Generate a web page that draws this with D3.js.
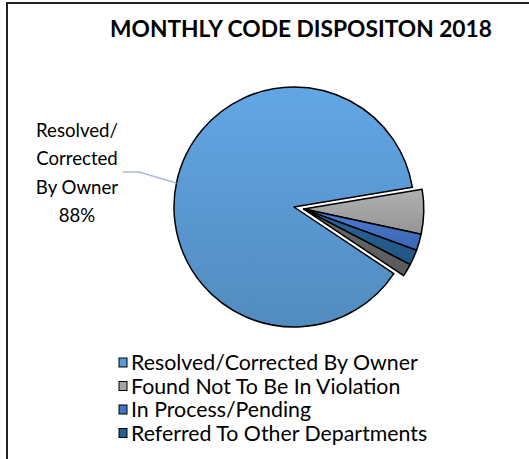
<!DOCTYPE html>
<html>
<head>
<meta charset="utf-8">
<script src="https://cdn.jsdelivr.net/npm/d3@7"></script>
<style>
  html, body { margin: 0; padding: 0; background: #fff; }
  svg { display: block; font-family: Lato, "Open Sans", sans-serif; }
</style>
</head>
<body>
<div id="chart"></div>
<script>
var width = 529, height = 459;

// data (percent of cases)
var categories = ["Resolved/Corrected By Owner", "Found Not To Be In Violation",
                  "In Process/Pending", "Referred To Other Departments", ""];
var values = [88, 6, 2.2, 2.1, 1.7];
var colors = ["#5b9bd5", "#a5a5a5", "#4472c4", "#255e91", "#636363"];
var labelLines = ["Resolved/", "Corrected", "By Owner", "88%"];
var title = "MONTHLY CODE DISPOSITON 2018";

var data = categories.map(function(c, i) { return {name: c, value: values[i], color: colors[i]}; });

var cx = 294, cy = 207, r = 120;
var startDeg = 123.7;
var explode = 10;

var svg = d3.select("#chart").append("svg")
    .attr("width", width).attr("height", height);

// fit a text's font size so it spans the given width
function fitSize(sel, w) {
  var len = sel.node().getComputedTextLength();
  var fs = parseFloat(sel.style("font-size"));
  return fs * w / len;
}

// frame (only left and top edges show)
svg.append("path")
    .attr("d", "M7," + height + " L7,3 L" + width + ",3")
    .attr("fill", "none").attr("stroke", "#222").attr("stroke-width", 2);

var defs = svg.append("defs");
data.forEach(function(d, i) {
  var base = d3.color(d.color);
  var g = defs.append("linearGradient").attr("id", "grad" + i)
      .attr("x1", 0).attr("y1", 0).attr("x2", 0).attr("y2", 1);
  g.append("stop").attr("offset", "0%").attr("stop-color", base.brighter(0.2));
  g.append("stop").attr("offset", "100%").attr("stop-color", base.darker(0.3));
});

var titleText = svg.append("text")
    .attr("x", 301).attr("y", 37)
    .attr("text-anchor", "middle")
    .style("font-weight", "bold").style("font-size", "20px")
    .attr("fill", "#000")
    .text(title);
titleText.style("font-size", fitSize(titleText, 382) + "px");

var start = startDeg * Math.PI / 180;
var pie = d3.pie().sort(null).value(function(d) { return d.value; })
    .startAngle(start).endAngle(start + 2 * Math.PI);
var arcs = pie(data);

var arc = d3.arc().innerRadius(0).outerRadius(r);

// the smaller slices are pulled out together
var rest = arcs.slice(1);
var mid = (rest[0].startAngle + rest[rest.length - 1].endAngle) / 2;
var ox = explode * Math.sin(mid), oy = -explode * Math.cos(mid);

var pieG = svg.append("g").attr("transform", "translate(" + cx + "," + cy + ")");

pieG.selectAll("path.slice")
    .data(arcs)
    .enter().append("path")
    .attr("class", "slice")
    .attr("transform", function(d, i) { return i === 0 ? null : "translate(" + ox + "," + oy + ")"; })
    .attr("d", arc)
    .attr("fill", function(d, i) { return "url(#grad" + i + ")"; })
    .attr("stroke", "#000")
    .attr("stroke-width", 1.5)
    .attr("stroke-linejoin", "round");

// data label with leader line (ends on the rim, upper left)
var la = -78.5 * Math.PI / 180;
var px = cx + r * Math.sin(la), py = cy - r * Math.cos(la);
svg.append("polyline")
    .attr("points", [[123, 172], [139, 172], [px, py]].map(function(p) { return p.join(","); }).join(" "))
    .attr("fill", "none").attr("stroke", "#a9bbd0").attr("stroke-width", 1.5);

var labels = svg.append("g").selectAll("text")
    .data(labelLines)
    .enter().append("text")
    .attr("x", 77)
    .attr("y", function(d, i) { return 137 + i * 28.3; })
    .attr("text-anchor", "middle")
    .style("font-size", "20px")
    .attr("fill", "#000")
    .text(function(d) { return d; });
var labelSize = fitSize(d3.select(labels.nodes()[0]), 82);
labels.style("font-size", labelSize + "px");

// legend
var legend = svg.append("g").attr("transform", "translate(119,363)");
var items = legend.selectAll("g")
    .data(data.filter(function(d) { return d.name !== ""; }))
    .enter().append("g")
    .attr("transform", function(d, i) { return "translate(0," + i * 23.5 + ")"; });

items.append("rect")
    .attr("x", 0).attr("y", -5).attr("width", 8).attr("height", 9)
    .attr("fill", function(d) { return d.color; })
    .attr("stroke", "#000").attr("stroke-width", 1);

var legendText = items.append("text")
    .attr("x", 12).attr("y", 7)
    .style("font-size", "20px")
    .attr("fill", "#000")
    .text(function(d) { return d.name; });
var legendSize = fitSize(d3.select(legendText.nodes()[0]), 287);
legendText.style("font-size", legendSize + "px");
</script>
</body>
</html>
